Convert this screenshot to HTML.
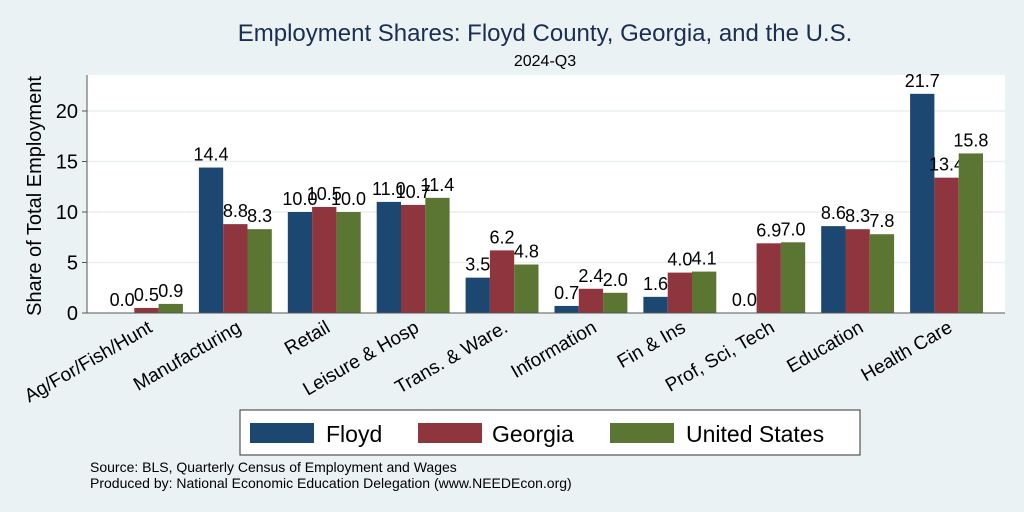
<!DOCTYPE html>
<html><head><meta charset="utf-8"><style>
body{margin:0;background:#eaf2f3;}
svg{display:block;font-family:"Liberation Sans",Arial,sans-serif;}
</style></head><body>
<svg id="c" width="1024" height="512" xmlns="http://www.w3.org/2000/svg">
<rect width="1024" height="512" fill="#eaf2f3"/>
<text x="545" y="41" font-size="24" text-anchor="middle" fill="#1a2e52">Employment Shares: Floyd County, Georgia, and the U.S.</text>
<text x="545" y="66" font-size="16" text-anchor="middle" fill="#000">2024-Q3</text>
<rect x="87" y="75" width="918" height="238" fill="#fff"/>
<g id="grid"></g>
<g id="bars"></g>
<g id="xl"></g>
<line x1="87" y1="75" x2="87" y2="313" stroke="#555" stroke-width="1"/>
<line x1="87" y1="313" x2="1005" y2="313" stroke="#555" stroke-width="1"/>
<text transform="translate(41,196) rotate(-90)" font-size="20" text-anchor="middle">Share of Total Employment</text>
<g>
<rect x="240" y="410" width="620" height="45" fill="#fff" stroke="#333" stroke-width="1"/>
<rect x="250" y="423" width="64" height="20" fill="#1c4770"/>
<text x="326" y="442" font-size="23">Floyd</text>
<rect x="418" y="423" width="64" height="20" fill="#8f353e"/>
<text x="492" y="442" font-size="23">Georgia</text>
<rect x="610" y="423" width="64" height="20" fill="#5b7532"/>
<text x="686" y="442" font-size="23">United States</text>
</g>
<text x="90" y="472" font-size="14">Source: BLS, Quarterly Census of Employment and Wages</text>
<text x="90" y="488" font-size="14">Produced by: National Economic Education Delegation (www.NEEDEcon.org)</text>
</svg>
<script>
const categories=["Ag/For/Fish/Hunt","Manufacturing","Retail","Leisure & Hosp","Trans. & Ware.","Information","Fin & Ins","Prof, Sci, Tech","Education","Health Care"];
const floyd=[0.0,14.4,10.0,11.0,3.5,0.7,1.6,0.0,8.6,21.7];
const georgia=[0.5,8.8,10.5,10.7,6.2,2.4,4.0,6.9,8.3,13.4];
const us=[0.9,8.3,10.0,11.4,4.8,2.0,4.1,7.0,7.8,15.8];
const yTicks=[0,5,10,15,20];
const NS="http://www.w3.org/2000/svg";
const y=v=>313-v*10.1;
const gx=i=>110+i*88.9;
const bw=24.3;
function mk(t,a,p){const e=document.createElementNS(NS,t);for(const k in a)e.setAttribute(k,a[k]);p.appendChild(e);return e;}
const grid=document.getElementById('grid');
yTicks.forEach(t=>{
 if(t>0){const l=mk('line',{x1:87,x2:1005,y1:y(t),y2:y(t),stroke:'#e8f0f2','stroke-width':1.5},grid);
 
 }
 const tk=mk('line',{x1:82,x2:87,y1:y(t),y2:y(t),stroke:'#555'},grid);
 
 
 const tx=mk('text',{x:78,y:y(t)+7,'font-size':20,'text-anchor':'end'},grid);tx.textContent=t;
 
 
});
const bars=document.getElementById('bars');
const series=[[floyd,'#1c4770','floyd'],[georgia,'#8f353e','georgia'],[us,'#5b7532','us']];
categories.forEach((c,i)=>{
 series.forEach(([d,col,n],s)=>{
  const x=gx(i)+s*bw,v=d[i];
  const r=mk('rect',{x:x,y:y(v),width:bw,height:v*10.1,fill:col},bars);
  
  
  const t=mk('text',{x:x+bw/2,y:y(v)-7,'font-size':18,'text-anchor':'middle'},bars);t.textContent=v.toFixed(1);
  
  
 });
 const cx=gx(i)+bw*1.5;
 const t=mk('text',{transform:`translate(${cx+7},${331}) rotate(-30)`,'font-size':19,'text-anchor':'end'},document.getElementById('xl'));
 t.textContent=c;
 
 
});
</script>
</body></html>
